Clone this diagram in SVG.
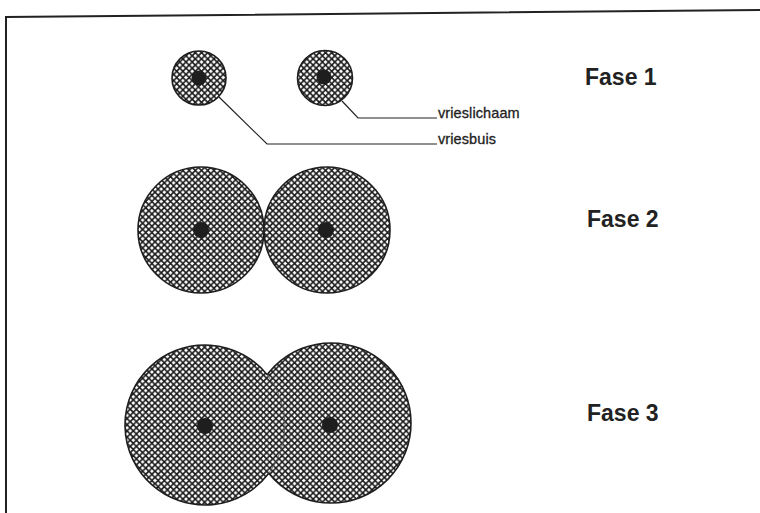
<svg xmlns="http://www.w3.org/2000/svg" width="760" height="513" viewBox="0 0 760 513">
<style>
.cell{stroke:#1e1e1e;stroke-width:1.6;fill:url(#hatch)}
.fill{fill:url(#hatch);stroke:none}
.edge{stroke:#1e1e1e;stroke-width:1.6;fill:none}
.seam{stroke:#555;stroke-width:0.8;fill:none}
.dot{fill:#1e1e1e}
.lead{stroke:#222;stroke-width:1.2;fill:none}
.lbl{font-family:"Liberation Sans",Arial,sans-serif;font-size:14.5px;fill:#222;stroke:#222;stroke-width:0.3;letter-spacing:0.1px}
.fase{font-family:"Liberation Sans",Arial,sans-serif;font-size:23px;font-weight:bold;fill:#222}
.frame{stroke:#222;stroke-width:2;fill:none}
</style>
<defs>
<pattern id="hatch" patternUnits="userSpaceOnUse" width="6.2" height="6.2">
<rect width="6.2" height="6.2" fill="#fff"/>
<path d="M-1 -1L7.2 7.2M7.2 -1L-1 7.2" stroke="#1a1a1a" stroke-width="1.6"/>
</pattern>
</defs>
<rect width="760" height="513" fill="#fff"/>
<path class="frame" d="M6 513V17L760 10"/>
<g id="fase1-left"><circle class="cell" cx="199" cy="78" r="27"/><circle class="dot" cx="199" cy="78" r="7.5"/></g>
<g id="fase1-right"><circle class="cell" cx="325" cy="78" r="27.5"/><circle class="dot" cx="324" cy="77" r="7.5"/></g>
<g id="fase2-left"><circle class="cell" cx="201" cy="230" r="63"/><circle class="dot" cx="201" cy="230" r="8"/></g>
<g id="fase2-right"><circle class="cell" cx="327" cy="230" r="63"/><circle class="dot" cx="326" cy="230" r="8"/></g>
<g id="fase3-right"><circle class="cell" cx="331" cy="423" r="80"/><circle class="dot" cx="330" cy="425" r="8"/></g>
<g id="fase3-left"><circle class="fill" cx="205" cy="425" r="80"/>
<path class="edge" d="M267.2 374.7A80 80 0 1 0 268.8 473.3"/>
<path class="seam" d="M267.2 374.7A80 80 0 0 1 268.8 473.3"/>
<circle class="dot" cx="205" cy="426" r="8"/></g>
<g id="connectors">
<path class="lead" d="M219 97L267 144H437"/>
<path class="lead" d="M342 101L358 118H437"/>
</g>
<g id="label-vrieslichaam"><text class="lbl" x="438" y="118">vrieslichaam</text></g>
<g id="label-vriesbuis"><text class="lbl" x="438" y="144">vriesbuis</text></g>
<g id="label-fase1"><text class="fase" x="585" y="85">Fase 1</text></g>
<g id="label-fase2"><text class="fase" x="587" y="227">Fase 2</text></g>
<g id="label-fase3"><text class="fase" x="587" y="421">Fase 3</text></g>
</svg>
